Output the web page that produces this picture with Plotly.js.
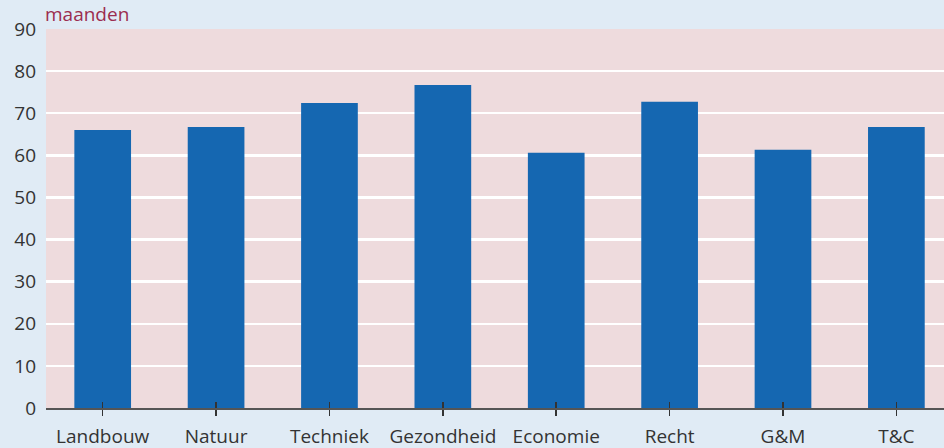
<!DOCTYPE html>
<html>
<head>
<meta charset="utf-8">
<script src="https://cdn.plot.ly/plotly-3.0.1.min.js"></script>
<style>html,body{margin:0;padding:0;background:#e0ebf5;}#chart{width:944px;height:448px;}</style>
</head>
<body>
<div id="chart"></div>
<script>
const categories = ["Landbouw", "Natuur", "Techniek", "Gezondheid", "Economie", "Recht", "G&M", "T&C"];
const months = [66.0, 66.7, 72.4, 76.7, 60.6, 72.7, 61.3, 66.7];
const yTicks = [0, 10, 20, 30, 40, 50, 60, 70, 80, 90];
const unitLabel = "maanden";

const font = {family: "Open Sans, Lato, sans-serif", size: 19, color: "#333333"};

const data = [
  {type: "bar", x: categories, y: months, marker: {color: "#1567b1"}, width: 0.5, hoverinfo: "x+y"},
  {type: "bar", x: categories, y: months.map(() => 0), xaxis: "x2", showlegend: false, hoverinfo: "skip", marker: {color: "rgba(0,0,0,0)"}}
];

const layout = {
  width: 944, height: 448,
  margin: {l: 46, r: 0, t: 29, b: 40},
  paper_bgcolor: "#e0ebf5",
  plot_bgcolor: "#eedbdd",
  showlegend: false,
  font: font,
  bargap: 0.5,
  xaxis: {
    type: "category",
    range: [-0.5, 7.42],
    showgrid: false,
    showline: true, linecolor: "#555555", linewidth: 2,
    ticks: "outside", ticklen: 6, tickwidth: 1.5, tickcolor: "#333333",
    ticklabelstandoff: 4,
    tickfont: font,
    fixedrange: true
  },
  xaxis2: {
    type: "category", overlaying: "x", matches: "x",
    range: [-0.5, 7.42],
    showgrid: false, showline: false,
    ticks: "inside", ticklen: 6, tickwidth: 1.5, tickcolor: "#333333",
    showticklabels: false
  },
  yaxis: {
    range: [0, 90],
    tickvals: yTicks,
    showgrid: true, gridcolor: "#ffffff", gridwidth: 2.5,
    zeroline: false, showline: false,
    ticks: "", ticklabelstandoff: 9,
    tickfont: font,
    fixedrange: true
  },
  annotations: [{
    text: unitLabel, xref: "paper", yref: "paper", x: 0, y: 1,
    xanchor: "left", yanchor: "bottom", yshift: 0, xshift: -3, showarrow: false,
    font: {family: "Open Sans, Lato, sans-serif", size: 19, color: "#9b2d4f"}
  }]
};

Plotly.newPlot("chart", data, layout, {displayModeBar: false, staticPlot: true});
</script>
</body>
</html>
